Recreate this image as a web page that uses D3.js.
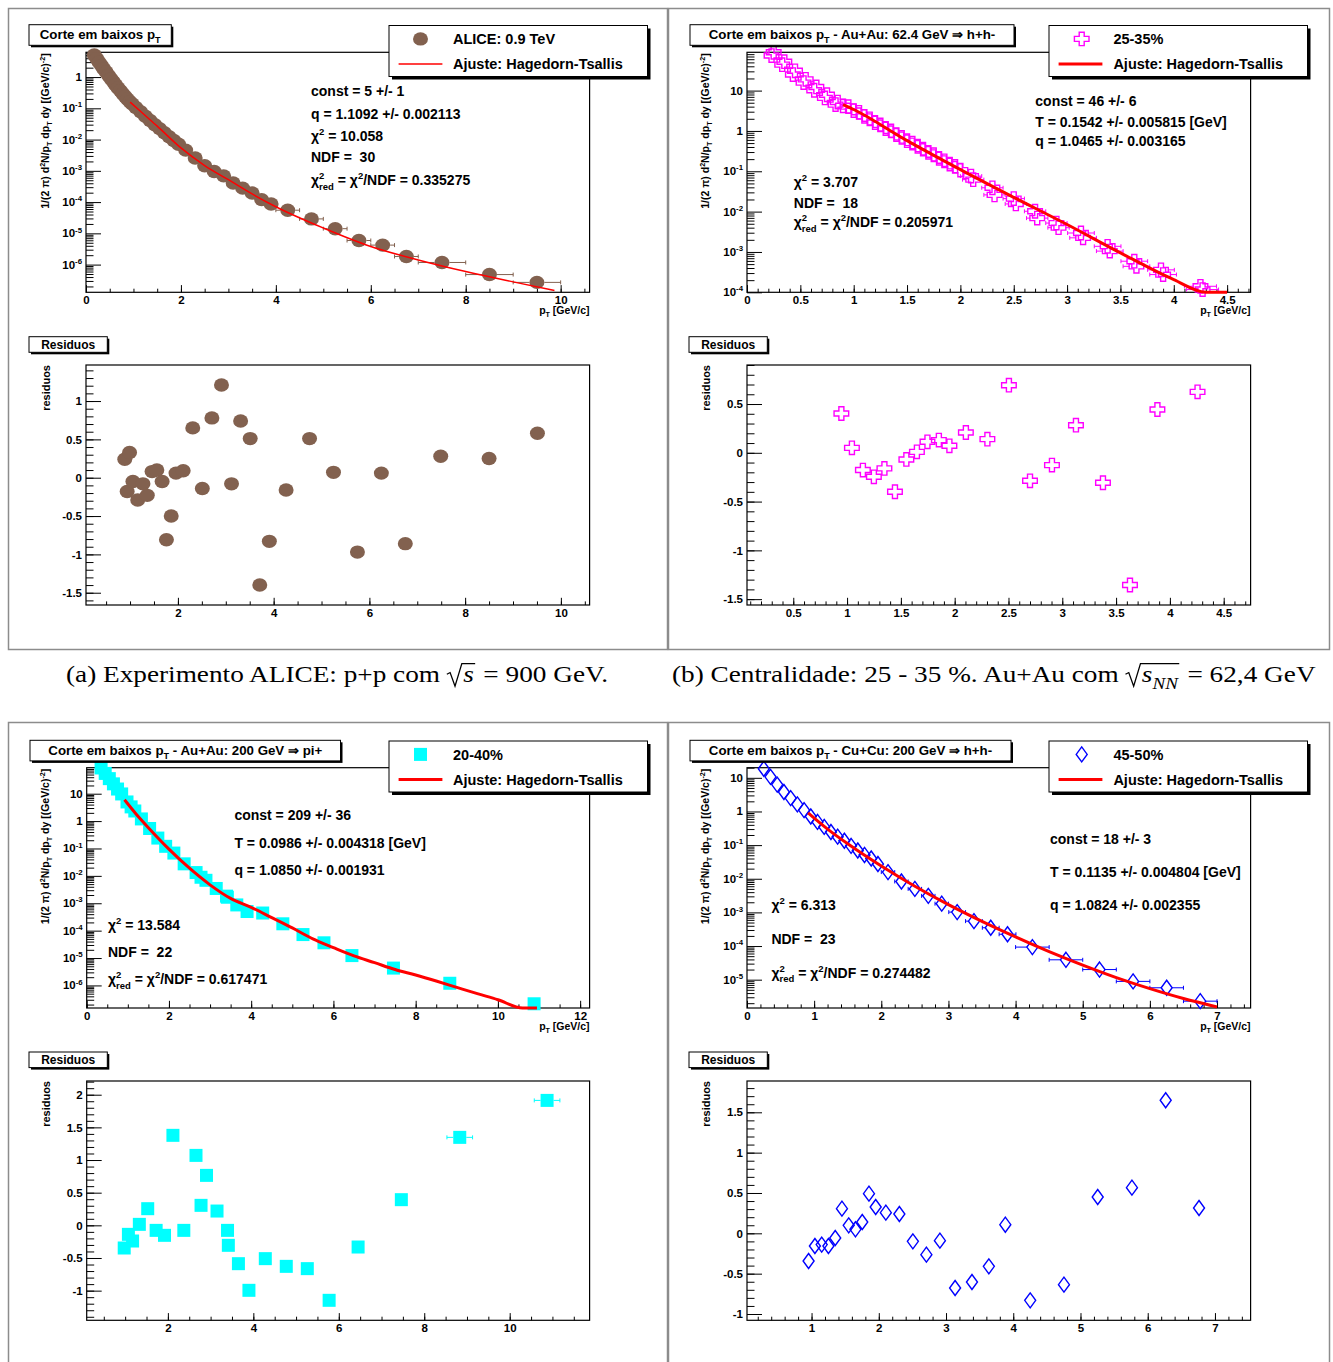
<!DOCTYPE html>
<html>
<head>
<meta charset="utf-8">
<script src="https://cdn.jsdelivr.net/npm/d3@7"></script>
<style>
  body { margin: 0; background: #fff; }
  svg { display: block; }
  text { white-space: pre; }
</style>
</head>
<body>
<script>
// ---------- data ----------
// (a) ALICE p+p 0.9 TeV
var aPt = [0.175,0.225,0.275,0.325,0.375,0.425,0.475,0.525,0.575,0.625,0.675,0.725,0.775,0.825,0.875,0.925,0.975,
  1.05,1.15,1.25,1.35,1.45,1.55,1.65,1.75,1.85,1.95,2.1,2.3,2.5,2.7,2.9,3.1,3.3,3.5,3.7,3.9,
  4.25,4.75,5.25,5.75,6.25,6.75,7.5,8.5,9.5];
var aY = [5.1,3.9,3.0,2.34,1.82,1.45,1.12,0.89,0.71,0.56,0.45,0.363,0.295,0.24,0.195,0.162,0.138,
  0.107,0.078,0.056,0.041,0.030,0.0224,0.0166,0.0123,9.3e-3,7.1e-3,4.6e-3,2.57e-3,1.45e-3,9.5e-4,6.9e-4,4.1e-4,2.8e-4,1.95e-4,1.2e-4,8.7e-5,
  5.5e-5,2.9e-5,1.41e-5,5.9e-6,4.2e-6,1.82e-6,1.17e-6,4.8e-7,2.7e-7];
var aXerr = [0.025,0.025,0.025,0.025,0.025,0.025,0.025,0.025,0.025,0.025,0.025,0.025,0.025,0.025,0.025,0.025,0.025,
  0.05,0.05,0.05,0.05,0.05,0.05,0.05,0.05,0.05,0.05,0.1,0.1,0.1,0.1,0.1,0.1,0.1,0.1,0.1,0.1,
  0.25,0.25,0.25,0.25,0.25,0.25,0.5,0.5,0.5];
var aFitPt = [0.93,1.2,1.5,2.0,2.5,3.0,3.5,4.0,5.0,6.0,7.0,8.0,9.0,9.87];
var aFitY = [0.158,0.068,0.027,5.4e-3,1.48e-3,5.2e-4,1.82e-4,7.1e-5,1.48e-5,3.8e-6,1.41e-6,6.0e-7,2.8e-7,1.48e-7];
var aResPt = [0.89,0.94,0.99,1.06,1.16,1.27,1.36,1.46,1.56,1.67,1.76,1.86,1.96,2.11,2.31,2.51,2.71,2.91,3.12,3.31,
  3.51,3.71,3.91,4.26,4.75,5.25,5.75,6.25,6.75,7.49,8.50,9.51];
var aRes = [0.24,-0.18,0.33,-0.05,-0.29,-0.08,-0.23,0.08,0.10,-0.05,-0.81,-0.50,0.06,0.09,0.65,-0.14,0.78,1.21,-0.08,0.74,
  0.51,-1.40,-0.83,-0.16,0.51,0.07,-0.97,0.06,-0.86,0.28,0.25,0.58];

// (b) Au+Au 62.4 GeV, 25-35%, h+ and h-
var bPt = [0.25,0.35,0.45,0.55,0.65,0.75,0.85,0.95,1.05,1.15,1.25,1.35,1.45,1.55,1.65,1.75,1.85,1.95,
  2.1,2.3,2.5,2.7,2.9,3.13,3.38,3.63,3.88,4.25];
var bY = [89,52,31,19,12.3,7.9,5.2,4.0,2.9,2.0,1.41,1.0,0.69,0.50,0.355,0.257,0.182,0.132,
  0.076,0.039,0.021,0.0102,5.2e-3,2.95e-3,1.38e-3,5.9e-4,3.6e-4,1.41e-4];
var bXerr = [0.05,0.05,0.05,0.05,0.05,0.05,0.05,0.05,0.05,0.05,0.05,0.05,0.05,0.05,0.05,0.05,0.05,0.05,
  0.1,0.1,0.1,0.1,0.1,0.125,0.125,0.125,0.125,0.15];
var bPt2 = [0.23,0.33,0.43,0.53,0.63,0.73,0.83,0.90,1.00,1.10,1.20,1.30,1.40,1.50,1.60,1.70,1.80,1.90,2.00,
  2.12,2.32,2.52,2.72,2.92,3.15,3.40,3.65,3.90,4.27];
var bY2 = [74,44,25,15.8,10.2,6.6,4.5,4.2,3.2,2.3,1.62,1.15,0.81,0.575,0.417,0.295,0.209,0.151,0.107,
  0.062,0.026,0.0155,6.9e-3,4.0e-3,2.24e-3,1.05e-3,4.4e-4,2.75e-4,1.17e-4];
var bXerr2 = [0.05,0.05,0.05,0.05,0.05,0.05,0.05,0.05,0.05,0.05,0.05,0.05,0.05,0.05,0.05,0.05,0.05,0.05,0.05,
  0.1,0.1,0.1,0.1,0.1,0.125,0.125,0.125,0.125,0.15];
var bFitPt = [0.9,1.0,1.5,2.0,2.5,3.0,3.5,4.0,4.3,4.5];
var bFitY = [4.5,3.4,0.575,0.11,0.0226,4.8e-3,9.5e-4,2.06e-4,1.0e-4,5.0e-5];
var bResPt = [0.947,1.045,1.147,1.249,1.347,1.445,1.551,1.649,1.747,1.853,1.951,2.104,2.304,2.504,2.700,2.904,3.127,3.378,3.629,3.884,4.257];
var bRes = [0.403,0.051,-0.177,-0.246,-0.160,-0.399,-0.068,0.010,0.113,0.130,0.072,0.208,0.140,0.693,-0.287,-0.126,0.283,-0.307,-1.355,0.444,0.625];

// (c) Au+Au 200 GeV, pi+, 20-40%
var cPt = [0.35,0.45,0.55,0.65,0.75,0.85,0.98,1.08,1.17,1.33,1.53,1.73,1.92,2.12,2.37,2.66,2.78,2.90,3.15,3.40,3.42,
  3.65,3.90,4.28,4.77,5.26,5.77,6.45,7.46,8.83,10.88];
var cY = [87,55,35.5,22.9,14.8,9.8,5.0,3.3,2.34,1.20,0.537,0.24,0.120,0.068,0.0275,0.0132,8.9e-3,6.9e-3,3.47e-3,1.82e-3,1.66e-3,
  8.7e-4,5.0e-4,4.4e-4,1.78e-4,7.2e-5,3.6e-5,1.23e-5,4.3e-6,1.2e-6,2.14e-7];
var cFitPt = [0.92,1.2,1.5,2.0,2.5,3.0,3.5,4.0,4.5,5.0,5.5,6.0,6.5,7.0,7.5,8.0,8.5,9.0,9.5,10.0,10.6,10.95];
var cFitY = [6.0,1.82,0.575,0.095,0.019,4.7e-3,1.5e-3,7.1e-4,3.0e-4,1.26e-4,5.0e-5,2.4e-5,1.2e-5,6.8e-6,3.8e-6,2.4e-6,1.45e-6,8.5e-7,5.0e-7,3.0e-7,1.5e-7,1.0e-7];
var cResPt = [0.978,1.076,1.174,1.332,1.528,1.725,1.921,2.118,2.373,2.658,2.776,2.904,3.150,3.396,3.415,3.651,3.897,4.280,4.771,5.263,5.774,6.452,7.464,8.831,10.875];
var cRes = [-0.347,-0.138,-0.240,0.015,0.255,-0.077,-0.153,1.378,-0.077,1.071,0.306,0.765,0.219,-0.077,-0.306,-0.587,-0.995,-0.510,-0.628,-0.663,-1.148,-0.332,0.393,1.347,1.913];
var cResXerr = [0,0,0,0,0,0,0,0,0,0,0,0,0,0,0,0,0,0,0,0,0,0,0,0.3,0.3];

// (d) Cu+Cu 200 GeV, h+h-, 45-50%
var dPt = [0.25,0.35,0.45,0.55,0.65,0.75,0.85,0.95,1.05,1.15,1.25,1.35,1.45,1.55,1.65,1.75,1.85,1.95,
  2.1,2.3,2.5,2.7,2.9,3.13,3.38,3.63,3.88,4.25,4.75,5.25,5.75,6.25,6.75];
var dY = [18.6,10.7,6.3,3.8,2.5,1.62,1.10,0.71,0.49,0.347,0.245,0.178,0.135,0.095,0.069,0.051,0.040,0.0275,
  0.0158,8.3e-3,5.0e-3,3.1e-3,1.82e-3,1.02e-3,5.5e-4,3.5e-4,2.24e-4,9.3e-5,3.9e-5,2.0e-5,8.9e-6,5.75e-6,2.3e-6];
var dXerr = [0.05,0.05,0.05,0.05,0.05,0.05,0.05,0.05,0.05,0.05,0.05,0.05,0.05,0.05,0.05,0.05,0.05,0.05,
  0.1,0.1,0.1,0.1,0.1,0.125,0.125,0.125,0.125,0.25,0.25,0.25,0.25,0.25,0.25];
var dFitPt = [0.91,1.2,1.5,2.0,2.5,3.0,3.5,4.0,4.5,5.0,5.5,6.0,6.5,7.0];
var dFitY = [0.91,0.30,0.11,0.024,6.0e-3,1.7e-3,5.4e-4,1.86e-4,6.8e-5,2.7e-5,1.15e-5,5.4e-6,2.75e-6,1.55e-6];
var dResPt = [0.956,1.050,1.151,1.251,1.352,1.452,1.553,1.653,1.754,1.854,1.954,2.105,2.306,2.507,2.708,2.909,3.135,3.386,3.637,3.882,4.252,4.754,5.256,5.765,6.267,6.763];
var dRes = [-0.343,-0.157,-0.140,-0.157,-0.058,0.306,0.099,0.050,0.140,0.492,0.326,0.256,0.240,-0.099,-0.264,-0.091,-0.678,-0.603,-0.409,0.107,-0.831,-0.636,0.450,0.566,1.649,0.314];

// ---------- drawing ----------
var FONT = "'Liberation Sans', Arial, Helvetica, sans-serif";
var SERIF = "'Liberation Serif', 'Times New Roman', serif";

var svg = d3.select('body').append('svg').attr('width', 1333).attr('height', 1362);
svg.append('rect').attr('width', 1333).attr('height', 1362).attr('fill', '#fff');

// text with ['str', ''|'sup'|'sub'] parts
function rich(t, parts, fs) {
  var shift = 0;
  parts.forEach(function(p) {
    var s = p[1] === 'sup' ? -0.42 * fs : (p[1] === 'sub' ? 0.3 * fs : 0);
    t.append('tspan').attr('dy', s - shift).attr('font-size', p[1] ? fs * 0.68 : fs).text(p[0]);
    shift = s;
  });
  return t;
}

function stepTicks(dom, step) {
  var out = [], i0 = Math.ceil(dom[0] / step - 1e-6), i1 = Math.floor(dom[1] / step + 1e-6);
  for (var i = i0; i <= i1; i++) out.push(+(i * step).toFixed(4));
  return out;
}
function fmt(v) { return String(+v.toFixed(3)); }

function styleTicks(sel) {
  sel.select('.domain').remove();
  sel.selectAll('.tick line').attr('stroke', '#000').attr('stroke-width', 1);
  sel.selectAll('.tick text').attr('fill', '#000').attr('font-family', FONT).attr('font-weight', 'bold').attr('font-size', 11.5);
}

function drawAxes(g, x, y, o) {
  var yb = y.range()[0];
  var gx1 = g.append('g').attr('transform', 'translate(0,' + yb + ')')
    .call(d3.axisBottom(x).tickValues(stepTicks(x.domain(), o.xMin)).tickSize(-3.6).tickFormat(''));
  styleTicks(gx1);
  var gx2 = g.append('g').attr('transform', 'translate(0,' + yb + ')')
    .call(d3.axisBottom(x).tickValues(stepTicks(x.domain(), o.xMaj)).tickSize(-7.2).tickPadding(3.5).tickFormat(fmt));
  styleTicks(gx2);
  var xl = x.range()[0];
  if (o.log) {
    var d = y.domain();
    var lo = Math.ceil(Math.log10(d[0]) - 1e-9), hi = Math.floor(Math.log10(d[1]) + 1e-9);
    var majors = [], minors = [];
    for (var e = lo - 1; e <= hi; e++) {
      var p = Math.pow(10, e);
      if (e >= lo) majors.push(p);
      for (var k = 2; k <= 9; k++) if (k * p >= d[0] && k * p <= d[1]) minors.push(k * p);
    }
    styleTicks(g.append('g').attr('transform', 'translate(' + xl + ',0)')
      .call(d3.axisLeft(y).tickValues(minors).tickSize(-7.5).tickFormat('')));
    styleTicks(g.append('g').attr('transform', 'translate(' + xl + ',0)')
      .call(d3.axisLeft(y).tickValues(majors).tickSize(-15).tickFormat('')));
    majors.forEach(function(v) {
      var ex = Math.round(Math.log10(v));
      var t = g.append('text').attr('x', xl - 4).attr('y', y(v) + 4).attr('text-anchor', 'end')
        .attr('font-family', FONT).attr('font-weight', 'bold').attr('font-size', 11.5);
      if (ex === 0) t.text('1');
      else if (ex === 1) t.text('10');
      else rich(t, [['10', ''], [String(ex), 'sup']], 11.5);
    });
  } else {
    styleTicks(g.append('g').attr('transform', 'translate(' + xl + ',0)')
      .call(d3.axisLeft(y).tickValues(stepTicks(y.domain(), o.yMin)).tickSize(-7.5).tickFormat('')));
    styleTicks(g.append('g').attr('transform', 'translate(' + xl + ',0)')
      .call(d3.axisLeft(y).tickValues(stepTicks(y.domain(), o.yMaj)).tickSize(-15).tickPadding(4).tickFormat(fmt)));
  }
  g.append('rect').attr('x', xl).attr('y', y.range()[1])
    .attr('width', x.range()[1] - xl).attr('height', yb - y.range()[1])
    .attr('fill', 'none').attr('stroke', '#000').attr('stroke-width', 1.2);
}

var HALF = { circle: 7.5, square: 6.5, cross: 7, diamond: 5.5 };

function drawMarker(g, type, cx, cy, color) {
  if (type === 'circle') return g.append('ellipse').attr('cx', cx).attr('cy', cy).attr('rx', 7.5).attr('ry', 6.7).attr('fill', color);
  if (type === 'square') return g.append('rect').attr('x', cx - 6.5).attr('y', cy - 6.5).attr('width', 13).attr('height', 13).attr('fill', color);
  if (type === 'cross') {
    var a = 2.5, s = 7.3, t = 6.7;
    var pts = [[-a,-t],[a,-t],[a,-a],[s,-a],[s,a],[a,a],[a,t],[-a,t],[-a,a],[-s,a],[-s,-a],[-a,-a]];
    return g.append('path').attr('d', 'M' + pts.map(function(q) { return (cx + q[0]) + ',' + (cy + q[1]); }).join('L') + 'Z')
      .attr('fill', 'none').attr('stroke', color).attr('stroke-width', 1.4);
  }
  return g.append('path')
    .attr('d', 'M' + cx + ',' + (cy - 7.5) + 'L' + (cx + 5.5) + ',' + cy + 'L' + cx + ',' + (cy + 7.5) + 'L' + (cx - 5.5) + ',' + cy + 'Z')
    .attr('fill', 'none').attr('stroke', color).attr('stroke-width', 1.4);
}

function drawPoints(g, x, y, pts, vals, errs, type, color) {
  pts.forEach(function(p, i) {
    var cx = x(p), cy = y(vals[i]), h = HALF[type];
    var e = errs ? errs[i] : 0;
    if (e) {
      var x0 = x(p - e), x1 = x(p + e);
      [[x0, cx - h], [cx + h, x1]].forEach(function(s) {
        if (s[1] - s[0] > 0.5) {
          g.append('line').attr('x1', s[0]).attr('x2', s[1]).attr('y1', cy).attr('y2', cy).attr('stroke', color).attr('stroke-width', 1);
        }
      });
      if (x1 - x0 > 2 * h + 2) {
        [x0, x1].forEach(function(xx) {
          g.append('line').attr('x1', xx).attr('x2', xx).attr('y1', cy - 2).attr('y2', cy + 2).attr('stroke', color).attr('stroke-width', 1);
        });
      }
    }
    drawMarker(g, type, cx, cy, color);
  });
}

function box(g, x, y, w, h, sh) {
  g.append('rect').attr('x', x + sh).attr('y', y + sh).attr('width', w).attr('height', h).attr('fill', '#000');
  g.append('rect').attr('x', x).attr('y', y).attr('width', w).attr('height', h).attr('fill', '#fff').attr('stroke', '#000').attr('stroke-width', 1);
}

function statText(g, x, yc, line, fs) {
  var t = g.append('text').attr('x', x).attr('y', yc + 5).attr('font-family', FONT).attr('font-weight', 'bold')
    .attr('font-size', fs).attr('fill', '#000');
  if (line.red) {
    var chi = t.append('tspan').text('\u03c7');
    var w = chi.node().getComputedTextLength();
    t.append('tspan').attr('dy', -0.42 * fs).attr('font-size', fs * 0.68).text('2');
    t.append('tspan').attr('x', x + w).attr('dy', 0.42 * fs + 0.32 * fs).attr('font-size', fs * 0.68).text('red');
    t.append('tspan').attr('dy', -0.32 * fs).text(' = \u03c7');
    t.append('tspan').attr('dy', -0.42 * fs).attr('font-size', fs * 0.68).text('2');
    t.append('tspan').attr('dy', 0.42 * fs).text('/NDF = ' + line.red);
  } else if (line.chi) {
    rich(t, [['\u03c7', ''], ['2', 'sup'], [' = ' + line.chi, '']], fs);
  } else {
    t.text(line.t);
  }
}

var panels = [
  { ox: 8, oy: 8, w: 660, h: 642, row: 0, fx0: 78, fx1: 581.6,
    title: [['Corte em baixos p', ''], ['T', 'sub']], titleBox: [21, 142.3],
    type: 'circle', color: '#82614f', label: 'ALICE: 0.9 TeV', fitW: 1.5, legX: [412.5, 445],
    pt: aPt, y: aY, xerr: aXerr, fitPt: aFitPt, fitY: aFitY, resPt: aResPt, res: aRes,
    xDom: [0, 10.61], xMaj: 2, xMin: 0.5, yDom: [1.3e-7, 6.2],
    rxDom: [0.08, 10.6], ryDom: [-1.66, 1.47],
    stats: [
      [303, 83.3, { t: 'const = 5 +/- 1' }], [303, 106, { t: 'q = 1.1092 +/- 0.002113' }],
      [303, 127.7, { chi: '10.058' }], [303, 149.3, { t: 'NDF =  30' }], [303, 172.3, { red: '0.335275' }]] },
  { ox: 668, oy: 8, w: 662, h: 642, row: 0, fx0: 79, fx1: 582.6,
    title: [['Corte em baixos p', ''], ['T', 'sub'], [' - Au+Au: 62.4 GeV \u21d2 h+h-', '']], titleBox: [22, 324],
    type: 'cross', color: '#ff00ff', label: '25-35%', fitW: 3, legX: [413.7, 445.4],
    pt: bPt, y: bY, xerr: bXerr, pt2: bPt2, y2: bY2, xerr2: bXerr2, fitPt: bFitPt, fitY: bFitY, resPt: bResPt, res: bRes,
    xDom: [0, 4.72], xMaj: 0.5, xMin: 0.1, yDom: [1e-4, 89],
    rxDom: [0.07, 4.75], ryDom: [-1.56, 0.90],
    stats: [
      [367.3, 93.3, { t: 'const = 46 +/- 6' }], [367.3, 114, { t: 'T = 0.1542 +/- 0.005815 [GeV]' }],
      [367.3, 133.3, { t: 'q = 1.0465 +/- 0.003165' }],
      [125.8, 174, { chi: '3.707' }], [125.8, 195.3, { t: 'NDF =  18' }], [125.8, 214.3, { red: '0.205971' }]] },
  { ox: 8, oy: 722, w: 660, h: 660, row: 1, fx0: 78.7, fx1: 581.6,
    title: [['Corte em baixos p', ''], ['T', 'sub'], [' - Au+Au: 200 GeV \u21d2 pi+', '']], titleBox: [22, 310.5],
    type: 'square', color: '#00ffff', label: '20-40%', fitW: 3, legX: [412.5, 445],
    pt: cPt, y: cY, xerr: null, fitPt: cFitPt, fitY: cFitY, resPt: cResPt, res: cRes, resXerr: cResXerr,
    xDom: [0, 12.23], xMaj: 2, xMin: 0.5, yDom: [1.5e-7, 89],
    rxDom: [0.1, 11.87], ryDom: [-1.454, 2.21],
    stats: [
      [226.4, 93.3, { t: 'const = 209 +/- 36' }], [226.4, 121, { t: 'T = 0.0986 +/- 0.004318 [GeV]' }],
      [226.4, 148.3, { t: 'q = 1.0850 +/- 0.001931' }],
      [100, 203.3, { chi: '13.584' }], [100, 230, { t: 'NDF =  22' }], [100, 257.3, { red: '0.617471' }]] },
  { ox: 668, oy: 722, w: 662, h: 660, row: 1, fx0: 79, fx1: 582.6,
    title: [['Corte em baixos p', ''], ['T', 'sub'], [' - Cu+Cu: 200 GeV \u21d2 h+h-', '']], titleBox: [22, 321],
    type: 'diamond', color: '#0000ff', label: '45-50%', fitW: 3, legX: [413.7, 445.4],
    pt: dPt, y: dY, xerr: dXerr, fitPt: dFitPt, fitY: dFitY, resPt: dResPt, res: dRes,
    xDom: [0, 7.5], xMaj: 1, xMin: 0.2, yDom: [1.44e-6, 20],
    rxDom: [0.04, 7.53], ryDom: [-1.078, 1.888],
    stats: [
      [382, 117.3, { t: 'const = 18 +/- 3' }], [382, 150, { t: 'T = 0.1135 +/- 0.004804 [GeV]' }],
      [382, 183.3, { t: 'q = 1.0824 +/- 0.002355' }],
      [103.4, 183.3, { chi: '6.313' }], [103.4, 217.3, { t: 'NDF =  23' }], [103.4, 250.7, { red: '0.274482' }]] }
];

var ROWS = [
  { top: [44.3, 284.3], res: [357, 597], title: 16.7, leg: 17.5, resBox: 328.7 },
  { top: [45.7, 286], res: [359, 598.3], title: 18.3, leg: 19, resBox: 330 }
];

panels.forEach(function(P) {
  var R = ROWS[P.row];
  var pad = svg.append('g').attr('transform', 'translate(' + P.ox + ',' + P.oy + ')');
  pad.append('rect').attr('x', 0.5).attr('y', 0.5).attr('width', P.w - 1).attr('height', P.h - 1)
    .attr('fill', 'none').attr('stroke', '#8c8c8c').attr('stroke-width', 1.5);

  // ---- spectrum ----
  var x = d3.scaleLinear().domain(P.xDom).range([P.fx0, P.fx1]);
  var y = d3.scaleLog().domain(P.yDom).range([R.top[1], R.top[0]]);
  drawAxes(pad, x, y, { log: true, xMaj: P.xMaj, xMin: P.xMin });

  var pts = pad.append('g');
  if (P.pt2) drawPoints(pts, x, y, P.pt2, P.y2, P.xerr2, P.type, P.color);
  drawPoints(pts, x, y, P.pt, P.y, P.xerr, P.type, P.color);

  var line = d3.line()
    .x(function(d) { return x(d[0]); })
    .y(function(d) { return Math.min(y(d[1]), R.top[1]); })
    .curve(d3.curveMonotoneX);
  pad.append('path').datum(d3.zip(P.fitPt, P.fitY)).attr('d', line)
    .attr('fill', 'none').attr('stroke', '#ff0000').attr('stroke-width', P.fitW);

  // axis titles
  rich(pad.append('text').attr('transform', 'translate(41,' + (R.top[0] + 1) + ') rotate(-90)')
    .attr('text-anchor', 'end').attr('font-family', FONT).attr('font-weight', 'bold').attr('font-size', 10.5),
    [['1/(2 \u03c0) d', ''], ['2', 'sup'], ['N/p', ''], ['T', 'sub'], [' dp', ''], ['T', 'sub'],
     [' dy [(GeV/c)', ''], ['-2', 'sup'], [']', '']], 10.5);
  rich(pad.append('text').attr('x', P.fx1).attr('y', R.top[1] + 21.5).attr('text-anchor', 'end')
    .attr('font-family', FONT).attr('font-weight', 'bold').attr('font-size', 10.5),
    [['p', ''], ['T', 'sub'], [' [GeV/c]', '']], 10.5);

  // stats
  P.stats.forEach(function(s) { statText(pad, s[0], s[1], s[2], 14); });

  // title box
  box(pad, P.titleBox[0], R.title, P.titleBox[1], 20.6, 2);
  rich(pad.append('text').attr('x', P.titleBox[0] + P.titleBox[1] / 2).attr('y', R.title + 14.3)
    .attr('text-anchor', 'middle').attr('font-family', FONT).attr('font-weight', 'bold').attr('font-size', 13.3),
    P.title, 13.3);

  // legend
  box(pad, 381, R.leg, 258.5, 51, 3);
  drawMarker(pad, P.type, P.legX[0], R.leg + 13.4, P.color);
  pad.append('line').attr('x1', 390.6).attr('x2', 434.4).attr('y1', R.leg + 38.4).attr('y2', R.leg + 38.4)
    .attr('stroke', '#ff0000').attr('stroke-width', P.fitW);
  [[P.label, 13.4], ['Ajuste: Hagedorn-Tsallis', 38.4]].forEach(function(l) {
    pad.append('text').attr('x', P.legX[1]).attr('y', R.leg + l[1] + 5.3)
      .attr('font-family', FONT).attr('font-weight', 'bold').attr('font-size', 14.5).text(l[0]);
  });

  // ---- residuals ----
  var rx = d3.scaleLinear().domain(P.rxDom).range([P.fx0, P.fx1]);
  var ry = d3.scaleLinear().domain(P.ryDom).range([R.res[1], R.res[0]]);
  drawAxes(pad, rx, ry, { log: false, xMaj: P.xMaj, xMin: P.xMin, yMaj: 0.5, yMin: 0.1 });
  drawPoints(pad.append('g'), rx, ry, P.resPt, P.res, P.resXerr || null, P.type, P.color);

  pad.append('text').attr('transform', 'translate(42,' + R.res[0] + ') rotate(-90)')
    .attr('text-anchor', 'end').attr('font-family', FONT).attr('font-weight', 'bold').attr('font-size', 11)
    .text('residuos');

  box(pad, 21, R.resBox, 78.3, 15.6, 2);
  pad.append('text').attr('x', 21 + 78.3 / 2).attr('y', R.resBox + 12.2).attr('text-anchor', 'middle')
    .attr('font-family', FONT).attr('font-weight', 'bold').attr('font-size', 12).text('Residuos');
});

// ---- captions (the source figure is stretched horizontally) ----
function caption(x0, yb, fs, sx, before, rad, after) {
  var g = svg.append('g').attr('transform', 'translate(' + x0 + ',0) scale(' + sx + ',1)')
    .attr('font-family', SERIF).attr('font-size', fs).attr('fill', '#000');
  var cx = 0;
  function piece(parts, xx) {
    var t = g.append('text').attr('x', xx).attr('y', yb);
    var shift = 0;
    parts.forEach(function(p) {
      var s = p.sub ? 0.28 * fs : 0;
      var ts = t.append('tspan').attr('dy', s - shift).text(p.t);
      if (p.it) ts.attr('font-style', 'italic');
      if (p.sub) ts.attr('font-size', fs * 0.7);
      shift = s;
    });
    return t.node().getComputedTextLength();
  }
  cx += piece([{ t: before }], cx);
  var sw = 0.55 * fs;
  var rw = piece(rad, cx + sw + 0.05 * fs);
  g.append('path')
    .attr('d', 'M' + cx + ',' + (yb - 0.33 * fs) + 'L' + (cx + 0.12 * fs) + ',' + (yb - 0.4 * fs) +
      'L' + (cx + 0.3 * fs) + ',' + (yb + 0.18 * fs) + 'L' + (cx + sw) + ',' + (yb - 0.78 * fs) +
      'L' + (cx + sw + rw + 0.1 * fs) + ',' + (yb - 0.78 * fs))
    .attr('fill', 'none').attr('stroke', '#000').attr('stroke-width', 1.1);
  cx += sw + rw + 0.15 * fs;
  piece([{ t: after }], cx);
}
caption(66, 682, 23.5, 1.16, '(a) Experimento ALICE: p+p com ', [{ t: 's', it: true }], ' = 900 GeV.');
caption(672, 682, 23.5, 1.16, '(b) Centralidade: 25 - 35 %. Au+Au com ', [{ t: 's', it: true }, { t: 'NN', it: true, sub: true }], ' = 62,4 GeV');
</script>
</body>
</html>
